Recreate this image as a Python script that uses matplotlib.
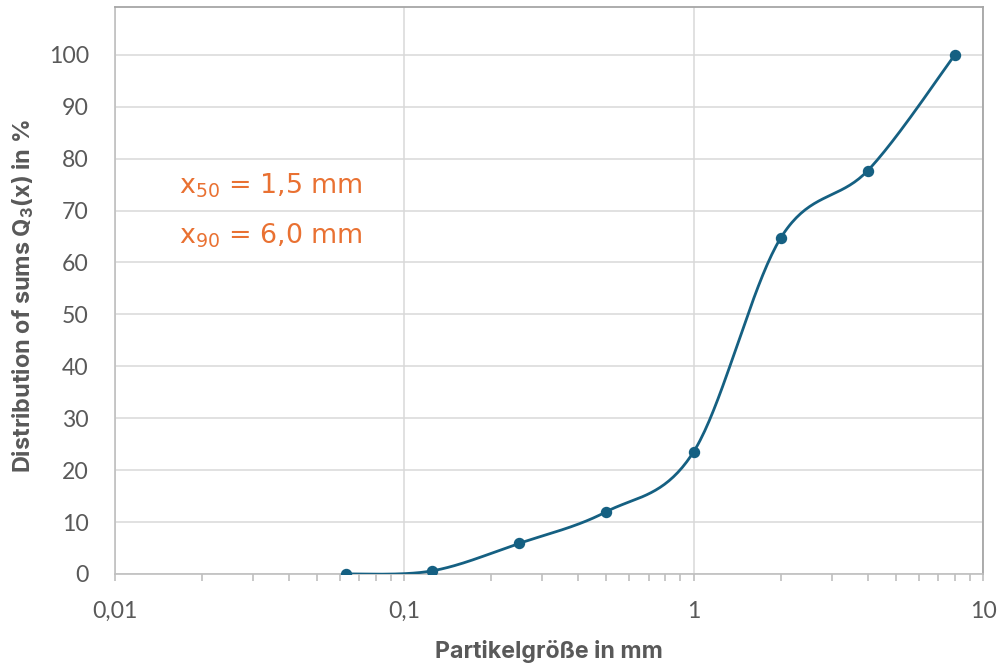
import numpy as np
import matplotlib
matplotlib.use("Agg")
import matplotlib.pyplot as plt
from matplotlib.ticker import FixedLocator, LogLocator, NullFormatter

plt.rcParams['font.family'] = ['Lato', 'DejaVu Sans']

# Data
particle_size_mm = [0.063, 0.125, 0.25, 0.5, 1, 2, 4, 8]
q3_percent = [0.0, 0.6, 5.9, 12.0, 23.5, 64.7, 77.7, 100.0]
x_ticks = [0.01, 0.1, 1, 10]
x_tick_labels = ["0,01", "0,1", "1", "10"]
y_ticks = list(range(0, 101, 10))
annotations = [r"x$\mathregular{_{50}}$ = 1,5 mm", r"x$\mathregular{_{90}}$ = 6,0 mm"]
annot_y = [73.3, 63.65]

LINE = "#156082"
ORANGE = "#E97132"
TICK = "#595959"
GRID = "#D9D9D9"
LABEL_FONT = ['Inter', 'DejaVu Sans']
ANNOT_FONT = ['DejaVu Sans']

W, H = 999, 664
fig = plt.figure(figsize=(W / 100, H / 100), dpi=100)
ax = fig.add_axes([114.5 / W, 1 - 574 / H, (983 - 114.5) / W, (574 - 7) / H])

ax.set_xscale('log')
ax.set_xlim(0.01, 10)
ax.set_ylim(0, 109.2)

# Excel-style smoothed line, computed in display space
fig.canvas.draw()
pts = ax.transData.transform(np.column_stack([particle_size_mm, q3_percent]))
P = np.vstack([pts[0], pts, pts[-1]])
curve = []
t = np.linspace(0, 1, 40)[:, None]
for i in range(1, len(P) - 2):
    p0, p1, p2, p3 = P[i - 1], P[i], P[i + 1], P[i + 2]
    c1 = p1 + (p2 - p0) / 6
    c2 = p2 - (p3 - p1) / 6
    seg = ((1 - t) ** 3) * p1 + 3 * ((1 - t) ** 2) * t * c1 + 3 * (1 - t) * t ** 2 * c2 + t ** 3 * p2
    curve.append(seg)
curve = np.vstack(curve)
cdata = ax.transData.inverted().transform(curve)

ax.plot(cdata[:, 0], cdata[:, 1], color=LINE, lw=2.0, zorder=3, solid_capstyle='round')
ax.plot(particle_size_mm, q3_percent, 'o', color=LINE, ms=7.2, zorder=4)

ax.set_yticks(y_ticks)
ax.xaxis.set_major_locator(FixedLocator(x_ticks))
ax.set_xticklabels(x_tick_labels)
ax.xaxis.set_minor_locator(LogLocator(base=10, subs=np.arange(2, 10)))
ax.xaxis.set_minor_formatter(NullFormatter())
ax.grid(True, which='major', color=GRID, lw=1.1)
ax.set_axisbelow(True)

for s in ['left', 'bottom']:
    ax.spines[s].set_color('#BFBFBF')
    ax.spines[s].set_linewidth(1.2)
for s in ['top', 'right']:
    ax.spines[s].set_color('#A6A6A6')
    ax.spines[s].set_linewidth(1.3)

ax.tick_params(axis='y', length=0, pad=18.5, labelsize=16.6, labelcolor=TICK)
ax.tick_params(axis='x', which='major', length=5, color='#BFBFBF', width=1.2, pad=14.5,
               labelsize=16.6, labelcolor=TICK)
ax.tick_params(axis='x', which='minor', length=5, color='#BFBFBF', width=1.2)

fig.text(549 / W, 1 - 658 / H, "Partikelgröße in mm", fontsize=16.7, fontweight='bold',
         family=LABEL_FONT, color=TICK, ha='center', va='baseline')
fig.text(23 / W, 1 - 296 / H, r"Distribution of sums Q$\mathregular{_3}$(x) in %",
         fontsize=16.9, fontweight='bold', family=LABEL_FONT, color=TICK,
         ha='center', va='center', rotation=90)

for txt, yv in zip(annotations, annot_y):
    ax.text(0.01669, yv, txt, fontsize=19.4, family=ANNOT_FONT, color=ORANGE,
            ha='left', va='baseline')

fig.savefig("out.png", dpi=100, facecolor='white')
